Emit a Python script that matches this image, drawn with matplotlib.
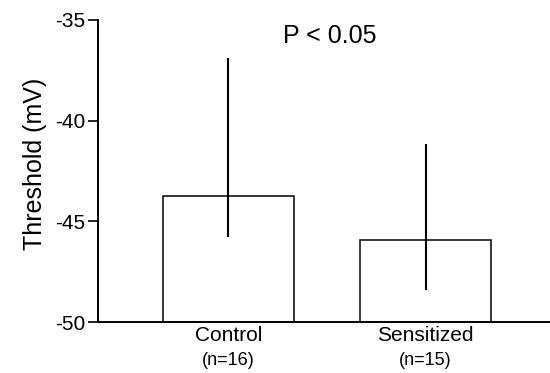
import matplotlib
matplotlib.use("Agg")
import matplotlib.pyplot as plt
import matplotlib.transforms as mtransforms
import numpy as np

# data
groups = ["Control", "Sensitized"]
n_cells = [16, 15]
means = [-43.75, -45.95]
err_low = [2.05, 2.45]
err_high = [6.85, 4.8]
p_text = "P < 0.05"

plt.rcParams['font.family'] = ['Liberation Sans', 'DejaVu Sans']
plt.rcParams['axes.unicode_minus'] = False

fig = plt.figure(figsize=(5.5, 3.73), dpi=100)
ax = fig.add_axes([0.178, 0.1367, 0.822, 0.8097])

y_min, y_max = -50, -35
x_pos = np.arange(len(groups))
heights = np.array(means) - y_min

# bars
ax.bar(x_pos, heights, bottom=y_min, width=0.665, color='white',
       edgecolor='black', linewidth=1.1, zorder=2)
# error bars (no caps)
ax.errorbar(x_pos, means, yerr=[err_low, err_high], fmt='none',
            ecolor='black', elinewidth=1.5, capsize=0, zorder=3)

ax.set_xlim(-0.662, 1.631)
ax.set_ylim(y_min, y_max)

ax.spines['top'].set_visible(False)
ax.spines['right'].set_visible(False)
ax.spines['left'].set_linewidth(1.4)
ax.spines['bottom'].set_linewidth(1.4)

ax.set_yticks([-50, -45, -40, -35])
ax.set_yticklabels(["-50", "-45", "-40", "-35"])
ax.tick_params(axis='y', direction='out', length=7, width=1.2, pad=2,
               labelsize=15)

ax.set_xticks(x_pos)
ax.set_xticklabels(groups)
ax.tick_params(axis='x', length=0, pad=3, labelsize=15)

# n labels under the group names
trans = mtransforms.blended_transform_factory(ax.transData, ax.transAxes)
for x, n in zip(x_pos, n_cells):
    ax.text(x, -0.126, "(n=%d)" % n, transform=trans, ha='center',
            va='center', fontsize=13)

ax.set_ylabel("Threshold (mV)", fontsize=18)
ax.yaxis.set_label_coords(-0.113, 0.523)

ax.text(0.513, 0.923, p_text, transform=ax.transAxes, ha='center',
        va='baseline', fontsize=18)

fig.savefig("out.png", dpi=100)
